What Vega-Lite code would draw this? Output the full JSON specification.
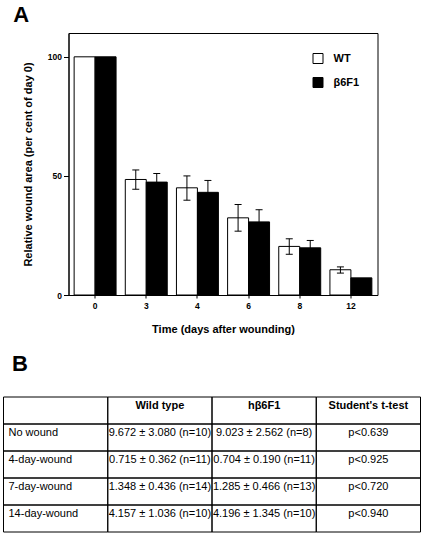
{
  "$schema": "https://vega.github.io/schema/vega-lite/v6.json",
  "background": "white",
  "padding": {"left": 2.5, "top": 3, "right": 0, "bottom": 0},
  "spacing": 17,
  "config": {
    "font": "Liberation Sans",
    "view": {"stroke": "black", "strokeWidth": 1},
    "axis": {"grid": false, "domainColor": "black", "tickColor": "black", "labelColor": "black", "titleColor": "black", "labelFont": "Liberation Sans", "titleFont": "Liberation Sans"}
  },
  "datasets": {
    "wound": [
      {"day": 0, "g": "WT", "v": 100, "lo": null, "hi": null},
      {"day": 0, "g": "β6F1", "v": 100, "lo": null, "hi": null},
      {"day": 3, "g": "WT", "v": 48.5, "lo": 44.4, "hi": 52.5},
      {"day": 3, "g": "β6F1", "v": 47.4, "lo": 43.8, "hi": 51.0},
      {"day": 4, "g": "WT", "v": 45.0, "lo": 39.8, "hi": 50.0},
      {"day": 4, "g": "β6F1", "v": 43.1, "lo": 38.1, "hi": 48.1},
      {"day": 6, "g": "WT", "v": 32.4, "lo": 26.8, "hi": 38.0},
      {"day": 6, "g": "β6F1", "v": 30.7, "lo": 25.5, "hi": 35.8},
      {"day": 8, "g": "WT", "v": 20.4, "lo": 17.1, "hi": 23.6},
      {"day": 8, "g": "β6F1", "v": 19.8, "lo": 16.8, "hi": 22.9},
      {"day": 12, "g": "WT", "v": 10.6, "lo": 9.2, "hi": 11.8},
      {"day": 12, "g": "β6F1", "v": 7.2, "lo": null, "hi": null}
    ],
    "table": [
      {"row": "header", "col": "Condition", "text": ""},
      {"row": "header", "col": "Wild type", "text": "Wild type"},
      {"row": "header", "col": "hβ6F1", "text": "hβ6F1"},
      {"row": "header", "col": "Student's t-test", "text": "Student's t-test"},
      {"row": "No wound", "col": "Condition", "text": "No wound"},
      {"row": "No wound", "col": "Wild type", "text": "9.672 ± 3.080 (n=10)"},
      {"row": "No wound", "col": "hβ6F1", "text": "9.023 ± 2.562 (n=8)"},
      {"row": "No wound", "col": "Student's t-test", "text": "p<0.639"},
      {"row": "4-day-wound", "col": "Condition", "text": "4-day-wound"},
      {"row": "4-day-wound", "col": "Wild type", "text": "0.715 ± 0.362 (n=11)"},
      {"row": "4-day-wound", "col": "hβ6F1", "text": "0.704 ± 0.190 (n=11)"},
      {"row": "4-day-wound", "col": "Student's t-test", "text": "p<0.925"},
      {"row": "7-day-wound", "col": "Condition", "text": "7-day-wound"},
      {"row": "7-day-wound", "col": "Wild type", "text": "1.348 ± 0.436 (n=14)"},
      {"row": "7-day-wound", "col": "hβ6F1", "text": "1.285 ± 0.466 (n=13)"},
      {"row": "7-day-wound", "col": "Student's t-test", "text": "p<0.720"},
      {"row": "14-day-wound", "col": "Condition", "text": "14-day-wound"},
      {"row": "14-day-wound", "col": "Wild type", "text": "4.157 ± 1.036 (n=10)"},
      {"row": "14-day-wound", "col": "hβ6F1", "text": "4.196 ± 1.345 (n=10)"},
      {"row": "14-day-wound", "col": "Student's t-test", "text": "p<0.940"}
    ]
  },
  "vconcat": [
    {
      "width": 309,
      "height": 262,
      "title": {"text": "A", "anchor": "start", "fontSize": 22, "fontWeight": "bold", "color": "black", "dx": -9, "offset": 6},
      "data": {"name": "wound"},
      "encoding": {
        "x": {
          "field": "day", "type": "ordinal", "sort": "ascending",
          "scale": {"paddingInner": 0.18, "paddingOuter": 0.11},
          "axis": {"labelAngle": 0, "tickSize": 3, "labelPadding": 3, "labelFontSize": 8.5, "labelFontWeight": "bold", "title": "Time (days after wounding)", "titleFontSize": 11, "titleFontWeight": "bold", "titlePadding": 14}
        },
        "xOffset": {"field": "g", "type": "nominal", "scale": {"domain": ["WT", "β6F1"]}}
      },
      "layer": [
        {
          "mark": {"type": "bar", "stroke": "black", "strokeWidth": 1},
          "encoding": {
            "y": {
              "field": "v", "type": "quantitative",
              "scale": {"domain": [0, 110], "nice": false},
              "axis": {"values": [0, 50, 100], "tickSize": 5, "labelPadding": 2, "labelFontSize": 8.5, "labelFontWeight": "bold", "title": "Relative wound area (per cent of day 0)", "titleFontSize": 11, "titleFontWeight": "bold", "titlePadding": 14}
            },
            "fill": {
              "field": "g", "type": "nominal",
              "scale": {"domain": ["WT", "β6F1"], "range": ["white", "black"]},
              "legend": {"orient": "none", "legendX": 244, "legendY": 20, "title": null, "padding": 0, "symbolType": "square", "symbolSize": 100, "symbolStrokeColor": "black", "symbolStrokeWidth": 1, "labelFontSize": 11, "labelFontWeight": "bold", "labelColor": "black", "labelOffset": 10, "rowPadding": 9}
            }
          }
        },
        {
          "transform": [{"filter": "isValid(datum.hi)"}],
          "mark": {"type": "rule", "color": "black", "strokeWidth": 1},
          "encoding": {"y": {"field": "lo", "type": "quantitative"}, "y2": {"field": "hi"}}
        },
        {
          "transform": [{"filter": "isValid(datum.hi)"}],
          "mark": {"type": "tick", "orient": "horizontal", "size": 7, "thickness": 1, "color": "black", "opacity": 1},
          "encoding": {"y": {"field": "hi", "type": "quantitative"}}
        },
        {
          "transform": [{"filter": "isValid(datum.lo)"}],
          "mark": {"type": "tick", "orient": "horizontal", "size": 7, "thickness": 1, "color": "black", "opacity": 1},
          "encoding": {"y": {"field": "lo", "type": "quantitative"}}
        }
      ]
    },
    {
      "width": 352,
      "height": 135,
      "view": {"stroke": null},
      "title": {"text": "B", "anchor": "start", "fontSize": 22, "fontWeight": "bold", "color": "black", "dx": 9, "offset": 21},
      "data": {"name": "table"},
      "encoding": {
        "x": {"field": "col", "type": "nominal", "sort": ["Condition", "Wild type", "hβ6F1", "Student's t-test"], "scale": {"paddingInner": 0, "paddingOuter": 0, "range": [-65, 352]}, "axis": null},
        "y": {"field": "row", "type": "nominal", "sort": ["header", "No wound", "4-day-wound", "7-day-wound", "14-day-wound"], "scale": {"paddingInner": 0, "paddingOuter": 0}, "axis": null}
      },
      "layer": [
        {
          "mark": {"type": "rect", "fill": null, "stroke": "black", "strokeWidth": 1}
        },
        {
          "transform": [{"filter": "datum.col === 'Condition'"}],
          "mark": {"type": "text", "align": "left", "baseline": "top", "dx": 5, "dy": 3, "fontSize": 11, "color": "black"},
          "encoding": {
            "x": {"field": "col", "type": "nominal", "sort": ["Condition", "Wild type", "hβ6F1", "Student's t-test"], "bandPosition": 0},
            "y": {"field": "row", "type": "nominal", "sort": ["header", "No wound", "4-day-wound", "7-day-wound", "14-day-wound"], "bandPosition": 0},
            "text": {"field": "text"}
          }
        },
        {
          "transform": [{"filter": "datum.col !== 'Condition' && datum.row !== 'header'"}],
          "mark": {"type": "text", "align": "center", "baseline": "top", "dy": 3, "fontSize": 11, "color": "black"},
          "encoding": {
            "y": {"field": "row", "type": "nominal", "sort": ["header", "No wound", "4-day-wound", "7-day-wound", "14-day-wound"], "bandPosition": 0},
            "text": {"field": "text"}
          }
        },
        {
          "transform": [{"filter": "datum.col !== 'Condition' && datum.row === 'header'"}],
          "mark": {"type": "text", "align": "center", "baseline": "top", "dy": 3, "fontSize": 11, "fontWeight": "bold", "color": "black"},
          "encoding": {
            "y": {"field": "row", "type": "nominal", "sort": ["header", "No wound", "4-day-wound", "7-day-wound", "14-day-wound"], "bandPosition": 0},
            "text": {"field": "text"}
          }
        }
      ]
    }
  ]
}
